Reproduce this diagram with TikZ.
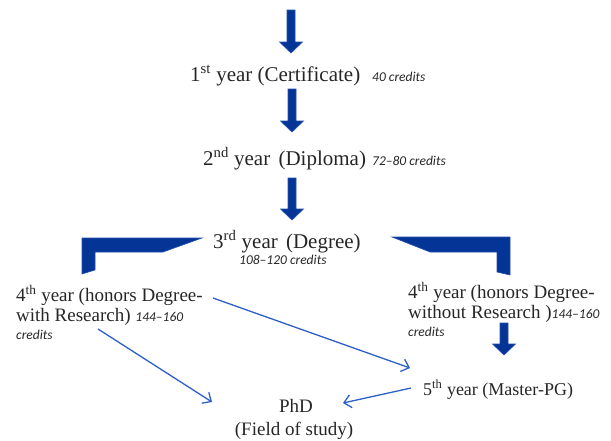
\documentclass[tikz,border=0pt]{standalone}
\usepackage{fontspec}
\setmainfont{Liberation Serif}
\newfontfamily\credfont{Carlito}
\usetikzlibrary{arrows.meta}
\definecolor{thickblue}{RGB}{4,52,150}
\definecolor{thickedge}{RGB}{35,80,175}
\definecolor{thinblue}{RGB}{45,95,200}
\definecolor{txt}{RGB}{38,38,38}
\newcommand\credit[1]{{\credfont\itshape\fontsize{13.5}{15}\selectfont #1}}
\newcommand\dnarrow[3]{% center x, top y, tip y
  \draw[bigarrow] (#1-4,#2) -- (#1+4,#2) -- (#1+4,#3-11) -- (#1+11.5,#3-11)
    -- (#1,#3) -- (#1-11.5,#3-11) -- (#1-4,#3-11) -- cycle;}
\begin{document}
\begin{tikzpicture}[x=1pt,y=-1pt,
  bigarrow/.style={fill=thickblue,draw=thickedge,line width=0.6pt,line join=miter},
  link/.style={draw=thinblue,line width=1.3pt,-{Straight Barb[length=7pt,width=13pt]}},
  lbl/.style={inner sep=0pt,anchor=base west,text=txt},
  big/.style={font=\fontsize{21}{24}\selectfont},
  mid/.style={font=\fontsize{19}{20}\selectfont},
  cred/.style={inner sep=0pt,anchor=base west,text=txt,font=\credfont\itshape\fontsize{13.5}{15}\selectfont}]
\path[use as bounding box] (0,0) rectangle (611,440);

% thick arrows
\dnarrow{291}{10}{53}
\dnarrow{292}{89}{132}
\dnarrow{292}{178}{220}
\dnarrow{504}{323}{355}
\draw[bigarrow] (82,238) -- (202,238) -- (163,252) -- (95,252) -- (95,270) -- (82,274) -- cycle;
\draw[bigarrow] (392,237) -- (510,237) -- (510,275) -- (497,272) -- (497,252) -- (430,252) -- cycle;

% texts
\node[lbl,big] (y1) at (190,81) {1\textsuperscript{st} year (Certificate)};
\node[cred] (c1) at (372,81) {40 credits};
\node[lbl,big] (y2) at (203,165) {2\textsuperscript{nd} year\hspace{3pt} (Diploma)};
\node[cred] (c2) at (372,165) {72–80 credits};
\node[lbl,big] (y3) at (213,248) {3\textsuperscript{rd} year\hspace{3pt} (Degree)};
\node[cred] (c3) at (239,264) {108–120 credits};

\node[lbl,mid] (y4a) at (16,301) {4\textsuperscript{th} year (honors Degree-};
\node[lbl,mid] (y4a2) at (16,321) {with Research) \credit{144–160}};
\node[cred] (c4a) at (16,339) {credits};

\node[lbl,mid] (y4b) at (408,298) {4\textsuperscript{th} year (honors Degree-};
\node[lbl,mid] (y4b2) at (408,318) {without Research )\credit{144–160}};
\node[cred] (c4b) at (408,336) {credits};

\node[lbl,font=\fontsize{18}{20}\selectfont] (y5) at (423,395) {5\textsuperscript{th} year (Master-PG)};
\node[inner sep=0pt,anchor=base,text=txt,mid] (phd) at (296,412) {PhD};
\node[inner sep=0pt,anchor=base,text=txt,mid] (fos) at (294,435) {(Field of study)};

% thin arrows
\coordinate (a1s) at (98,329);
\coordinate (a1e) at (212,402);
\coordinate (a2s) at (213,298);
\coordinate (a2e) at (410,368);
\coordinate (a3s) at (411,388);
\coordinate (a3e) at (343,403);
\draw[link] (a1s) -- (a1e);
\draw[link] (a2s) -- (a2e);
\draw[link] (a3s) -- (a3e);
\end{tikzpicture}
\end{document}
